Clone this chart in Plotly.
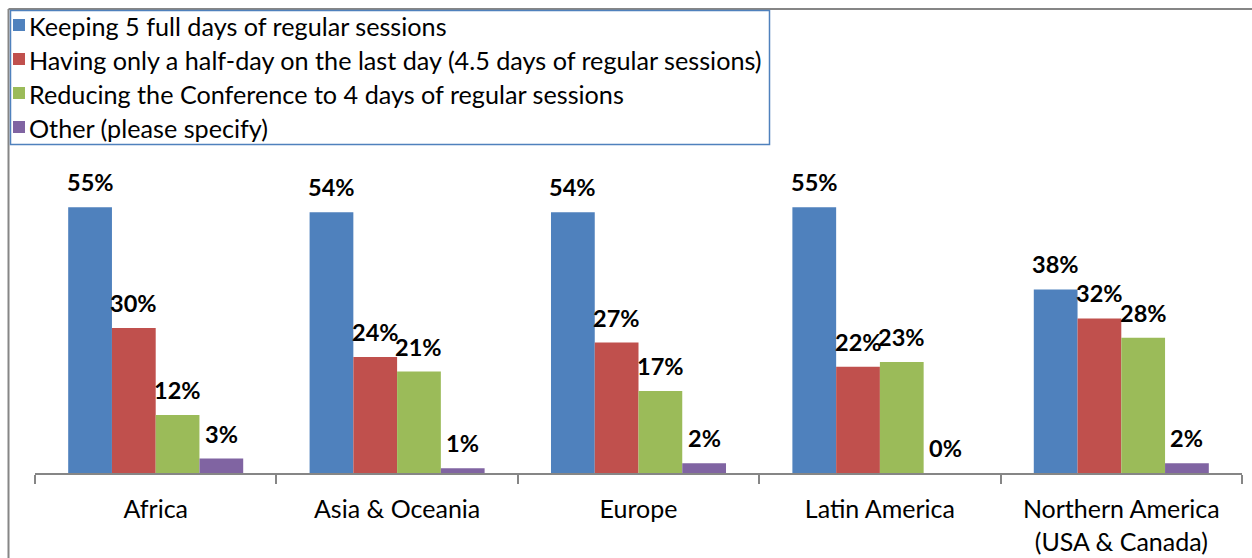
import plotly.graph_objects as go

# Survey results by region (share of respondents)
regions = ["Africa", "Asia & Oceania", "Europe", "Latin America",
           "Northern America<br>(USA & Canada)"]
options = [
    "Keeping 5 full days of regular sessions",
    "Having only a half-day on the last day (4.5 days of regular sessions)",
    "Reducing the Conference to 4 days of regular sessions",
    "Other (please specify)",
]
keep_5_days = [0.55, 0.54, 0.54, 0.55, 0.38]
half_last_day = [0.30, 0.24, 0.27, 0.22, 0.32]
reduce_4_days = [0.12, 0.21, 0.17, 0.23, 0.28]
other = [0.03, 0.01, 0.02, 0.00, 0.02]

series = [keep_5_days, half_last_day, reduce_4_days, other]
colors = ["#4F81BD", "#C0504D", "#9BBB59", "#8064A2"]

W, H = 1252, 558
L, R, T, B = 35, 10, 150, 85
plot_w = W - L - R
plot_h = H - T - B
y_max = 0.6687
bargap = 0.275

FONT = "Lato"


def px_x(p):
    return (p - L) / plot_w


def px_y(p):
    return (H - B - p) / plot_h


fig = go.Figure()
for name, vals, col in zip(options, series, colors):
    fig.add_trace(go.Bar(
        x=regions, y=vals, name=name,
        marker=dict(color=col, line=dict(width=0)),
        hoverinfo="x+y+name", showlegend=False,
    ))

# value labels above each bar
cat_w = plot_w / len(regions)
bar_w = cat_w * (1 - bargap) / len(series)
annotations = []
for i, vals in enumerate(series):
    shift = (i - (len(series) - 1) / 2) * bar_w
    for reg, v in zip(regions, vals):
        annotations.append(dict(
            x=reg, y=v, xref="x", yref="y",
            text=f"<b>{round(v * 100)}%</b>",
            showarrow=False, xshift=shift, yshift=25,
            yanchor="middle", xanchor="center",
            font=dict(family=FONT, size=23.5, color="#000000"),
        ))

shapes = [
    # outer chart frame (top and left edges)
    dict(type="line", xref="paper", yref="paper",
         x0=px_x(8.5), x1=px_x(W + 5), y0=px_y(9), y1=px_y(9),
         line=dict(color="#868686", width=2)),
    dict(type="line", xref="paper", yref="paper",
         x0=px_x(8.5), x1=px_x(8.5), y0=px_y(9), y1=px_y(H + 5),
         line=dict(color="#868686", width=2)),
    # legend frame
    dict(type="rect", xref="paper", yref="paper",
         x0=px_x(10.5), x1=px_x(769.5), y0=px_y(10.5), y1=px_y(144.5),
         line=dict(color="#4F81BD", width=1.5)),
]

# legend: colour key squares with option names
row0, row_step = 25, 34
for k, (name, col) in enumerate(zip(options, colors)):
    cy = row0 + k * row_step
    shapes.append(dict(
        type="rect", xref="paper", yref="paper",
        x0=px_x(13), x1=px_x(25), y0=px_y(cy - 6), y1=px_y(cy + 6),
        fillcolor=col, line=dict(width=0),
    ))
    annotations.append(dict(
        x=px_x(27), y=px_y(cy + 1), xref="paper", yref="paper",
        text=name, showarrow=False, xanchor="left", yanchor="middle",
        font=dict(family=FONT, size=25.2, color="#000000"),
    ))

fig.update_layout(
    width=W, height=H,
    margin=dict(l=L, r=R, t=T, b=B, autoexpand=False),
    paper_bgcolor="white", plot_bgcolor="white",
    barmode="group", bargap=bargap, bargroupgap=0,
    font=dict(family=FONT, size=25, color="#000000"),
    showlegend=False,
    xaxis=dict(
        showline=True, linecolor="#868686", linewidth=2,
        ticks="outside", tickson="boundaries", ticklen=9,
        tickcolor="#868686", tickwidth=2,
        tickfont=dict(family=FONT, size=25, color="#000000"),
        ticklabelstandoff=13,
        showgrid=False, zeroline=False,
    ),
    yaxis=dict(
        range=[0, y_max], visible=False, showgrid=False, zeroline=False,
    ),
    annotations=annotations,
    shapes=shapes,
)

fig.write_html("out.html")
